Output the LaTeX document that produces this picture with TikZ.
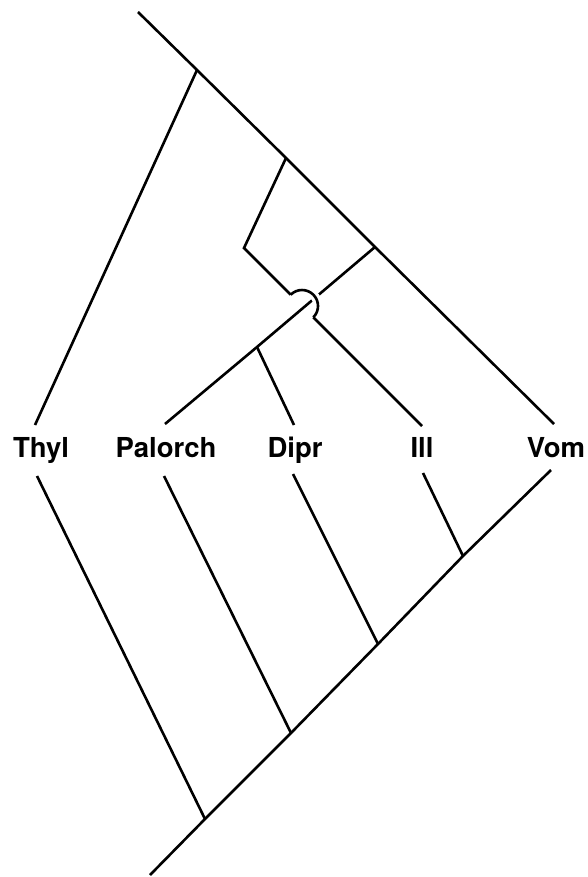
\documentclass[tikz,border=0pt]{standalone}
\usepackage{fontspec}
\setmainfont{TeX Gyre Heros}
\begin{document}
\begin{tikzpicture}[x=1pt,y=-1pt,
  br/.style={line width=2.6pt,line cap=butt,line join=miter},
  taxon/.style={anchor=base,inner sep=0pt,font=\fontsize{27.5}{30}\selectfont\bfseries}]
\useasboundingbox (0,0) rectangle (588,877);
% labels
\node[taxon] (Thyl) at (41,457) {Thyl};
\node[taxon] (Palorch) at (166,457) {Palorch};
\node[taxon] (Dipr) at (295,457) {Dipr};
\node[taxon] (Ill) at (422,457) {Ill};
\node[taxon] (Vom) at (556,457) {Vom};
% label ends of branches
\coordinate (ThylT) at (35,425);
\coordinate (ThylB) at (37,476);
\coordinate (PalT) at (165,424);
\coordinate (PalB) at (164,476);
\coordinate (DipT) at (294,425);
\coordinate (DipB) at (293,474);
\coordinate (IllT) at (422,426);
\coordinate (IllB) at (423,473);
\coordinate (VomT) at (554,424);
\coordinate (VomB) at (551,470);
% upper tree
\coordinate (topEnd) at (138,12);
\coordinate (u1) at (197,70);
\coordinate (u2) at (286,158);
\coordinate (u3) at (375,247);
\coordinate (kink) at (244,248);
\coordinate (pd) at (257,347);
\coordinate (hopA) at (290.7,294.7);
\coordinate (hopB) at (313.3,317.3);
% lower tree
\coordinate (botEnd) at (150,875);
\coordinate (l1) at (205,819);
\coordinate (l2) at (291,733);
\coordinate (l3) at (378,644);
\coordinate (l4) at (463,556);
% drawing
\draw[br] (topEnd) -- (u1) -- (u2) -- (u3) -- (VomT);
\draw[br] (u1) -- (ThylT);
\draw[br] (u3) -- (pd) -- (PalT);
\draw[br] (pd) -- (DipT);
\draw[br,preaction={draw=white,line width=9pt,line cap=butt}]
  (hopA) arc[start angle=225,end angle=405,radius=16];
\draw[br] (u2) -- (kink) -- (hopA);
\draw[br] (hopB) -- (IllT);
\draw[br] (botEnd) -- (l1) -- (l2) -- (l3) -- (l4) -- (VomB);
\draw[br] (ThylB) -- (l1);
\draw[br] (PalB) -- (l2);
\draw[br] (DipB) -- (l3);
\draw[br] (IllB) -- (l4);
\end{tikzpicture}
\end{document}
